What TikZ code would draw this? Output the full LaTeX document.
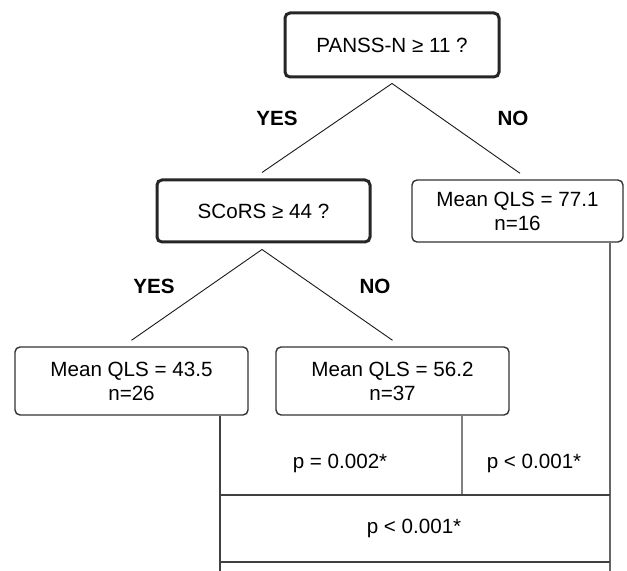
\documentclass[tikz,border=0pt]{standalone}
\usepackage{fontspec}
\setmainfont{Liberation Sans}
\usepackage{tikz}

\tikzset{
  question/.style={draw=black!85, line width=1.5pt, rounded corners=2.5pt, align=center,
    inner sep=0pt, font=\fontsize{10.3}{12}\selectfont},
  leaf/.style={draw=black!80, line width=0.7pt, rounded corners=2.5pt, align=center,
    inner sep=0pt, font=\fontsize{10.3}{12}\selectfont},
  answer/.style={font=\bfseries\fontsize{10.3}{12}\selectfont},
  pval/.style={font=\fontsize{10.3}{12}\selectfont},
  branch/.style={black!90, line width=0.45pt},
  bracket/.style={black!75, line width=0.6pt}
}

\begin{document}
\begin{tikzpicture}[x=0.5pt, y=-0.5pt]
                \useasboundingbox (0,0) rectangle (627,571);

                % Draw the question boxes
                \node[question, minimum width=107pt, minimum height=32pt] (panss) at (392,45) {PANSS-N ≥ 11 ?};
                \node[question, minimum width=106.5pt, minimum height=31pt] (scors) at (263.5,211) {SCoRS ≥ 44 ?};

                % Draw the leaves
                \node[leaf, minimum width=105.5pt, minimum height=31pt] (mean77) at (517.5,211) {Mean QLS = 77.1\\n=16};
                \node[leaf, minimum width=116.5pt, minimum height=34pt] (mean43) at (131.5,381) {Mean QLS = 43.5\\n=26};
                \node[leaf, minimum width=116.5pt, minimum height=34pt] (mean56) at (392.5,381) {Mean QLS = 56.2\\n=37};

                % Draw the branches
                \draw[branch] ([yshift=-2.5pt]panss.south) -- ([xshift=-0.75pt, yshift=3pt]scors.north);
                \draw[branch] ([yshift=-2.5pt]panss.south) -- ([xshift=1.25pt, yshift=3pt]mean77.north);
                \draw[branch] ([xshift=-0.75pt, yshift=-3pt]scors.south) -- ([yshift=3pt]mean43.north);
                \draw[branch] ([xshift=-0.75pt, yshift=-3pt]scors.south) -- ([yshift=3pt]mean56.north);

                % Add branch labels
                \node[answer] (yes1) at (277,118) {YES};
                \node[answer] (no1) at (513,118) {NO};
                \node[answer] (yes2) at (154,286) {YES};
                \node[answer] (no2) at (375,286) {NO};

                % Corners of the comparison brackets
                \coordinate (lowL) at (220,571);
                \coordinate (lowR) at (610,571);
                \coordinate (midL) at (220,495);
                \coordinate (midC) at (462,495);
                \coordinate (midR) at (610,495);
                \coordinate (botL) at (220,562);
                \coordinate (botR) at (610,562);

                % Draw the brackets
                \draw[bracket] (mean43.south -| lowL) -- (lowL);
                \draw[bracket, black!50] (mean56.south -| midC) -- (midC);
                \draw[bracket, black!60] (mean77.south -| lowR) -- (lowR);
                \draw[bracket] (midL) -- (midR);
                \draw[bracket] (botL) -- (botR);

                % Add p-values
                \node[pval] (p1) at (340,463) {p = 0.002*};
                \node[pval] (p2) at (534,463) {p < 0.001*};
                \node[pval] (p3) at (414,528) {p < 0.001*};
\end{tikzpicture}
\end{document}
